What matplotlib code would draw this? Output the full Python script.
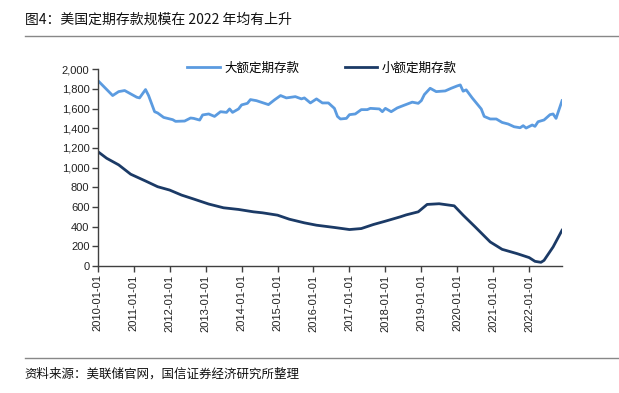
import matplotlib
matplotlib.use("Agg")
import matplotlib.pyplot as plt
from matplotlib.lines import Line2D
from matplotlib.ticker import FuncFormatter
import pandas as pd

plt.rcParams['font.family'] = ['Noto Sans CJK SC', 'DejaVu Sans']

title = "图4：美国定期存款规模在 2022 年均有上升"
source = "资料来源：美联储官网，国信证券经济研究所整理"
series_large_name = "大额定期存款"
series_small_name = "小额定期存款"

large_dates = [
    "2010-01", "2010-06", "2010-08", "2010-10", "2010-12", "2011-02", "2011-03", "2011-05",
    "2011-06", "2011-08", "2011-09", "2011-11", "2012-02", "2012-03", "2012-06", "2012-08",
    "2012-09", "2012-11", "2012-12", "2013-02", "2013-04", "2013-06", "2013-08", "2013-09",
    "2013-10", "2013-12", "2014-01", "2014-03", "2014-04", "2014-06", "2014-10", "2014-12",
    "2015-02", "2015-04", "2015-07", "2015-09", "2015-10", "2015-12", "2016-02", "2016-04",
    "2016-06", "2016-08", "2016-09", "2016-10", "2016-12", "2017-01", "2017-03", "2017-05",
    "2017-07", "2017-08", "2017-11", "2017-12", "2018-01", "2018-03", "2018-05", "2018-07",
    "2018-10", "2018-12", "2019-01", "2019-02", "2019-04", "2019-06", "2019-09", "2019-11",
    "2020-01", "2020-02", "2020-03", "2020-04", "2020-06", "2020-09", "2020-10", "2020-12",
    "2021-02", "2021-04", "2021-06", "2021-08", "2021-10", "2021-11", "2021-12", "2022-02",
    "2022-03", "2022-04", "2022-06", "2022-08", "2022-09", "2022-10", "2022-12",
]
large_values = [
    1885, 1732, 1772, 1783, 1749, 1715, 1708, 1793,
    1732, 1568, 1555, 1510, 1487, 1470, 1473, 1504,
    1500, 1483, 1535, 1545, 1520, 1568, 1561, 1596,
    1561, 1596, 1637, 1653, 1691, 1680, 1640, 1688,
    1732, 1708, 1721, 1698, 1708, 1657, 1698, 1657,
    1657, 1602, 1520, 1494, 1500, 1538, 1545, 1589,
    1589, 1602, 1596, 1568, 1602, 1568, 1606, 1630,
    1665, 1653, 1680, 1742, 1806, 1772, 1779, 1806,
    1830, 1840, 1776, 1790, 1708, 1596, 1520, 1494,
    1494, 1459, 1443, 1415, 1405, 1426, 1402, 1433,
    1419, 1466, 1484, 1538, 1545, 1500, 1680,
]

small_dates = [
    "2010-01", "2010-04", "2010-08", "2010-12", "2011-05", "2011-09", "2012-01", "2012-05",
    "2012-09", "2013-02", "2013-07", "2013-12", "2014-05", "2014-08", "2015-01", "2015-05",
    "2015-10", "2016-02", "2016-08", "2017-01", "2017-05", "2017-09", "2018-01", "2018-06",
    "2018-08", "2018-12", "2019-03", "2019-07", "2019-12", "2020-03", "2020-07", "2020-12",
    "2021-04", "2021-09", "2022-01", "2022-03", "2022-05", "2022-06", "2022-09", "2022-12",
]
small_values = [
    1163, 1095, 1028, 933, 864, 806, 772, 721,
    681, 630, 592, 575, 551, 541, 517, 476,
    439, 415, 392, 371, 381, 422, 456, 500,
    520, 551, 626, 633, 612, 517, 398, 245,
    170, 126, 86, 48, 38, 58, 194, 364,
]

y_ticks = [0, 200, 400, 600, 800, 1000, 1200, 1400, 1600, 1800, 2000]
x_tick_labels = [f"{y}-01-01" for y in range(2010, 2023)]

color_large = "#5B9BE0"
color_small = "#1B3A66"

fig = plt.figure(figsize=(6.19, 3.93), dpi=100)
ax = fig.add_axes([0.158, 0.323, 0.750, 0.501])

ld = pd.to_datetime(large_dates)
sd = pd.to_datetime(small_dates)
ax.plot(ld, large_values, color=color_large, lw=2.0, label=series_large_name,
        solid_joinstyle='round')
ax.plot(sd, small_values, color=color_small, lw=2.0, label=series_small_name,
        solid_joinstyle='round')

ax.set_ylim(0, 2000)
ax.set_yticks(y_ticks)
ax.yaxis.set_major_formatter(FuncFormatter(lambda v, p: f"{int(v):,}"))
ax.set_xlim(pd.Timestamp("2010-01-01"), pd.Timestamp("2022-12-01"))
tick_pos = pd.to_datetime(x_tick_labels)
ax.set_xticks(tick_pos)
ax.set_xticklabels(x_tick_labels, rotation=90, fontsize=8, family=['Liberation Sans', 'DejaVu Sans'])
for lab in ax.get_yticklabels():
    lab.set_fontsize(8)
    lab.set_family(['Liberation Sans', 'DejaVu Sans'])

for s in ['top', 'right']:
    ax.spines[s].set_visible(False)
for s in ['left', 'bottom']:
    ax.spines[s].set_color('#404040')
    ax.spines[s].set_linewidth(1.0)
ax.tick_params(axis='both', direction='out', length=4, width=1, color='#404040', labelcolor='#222222', pad=2)

leg = ax.legend(loc='center', bbox_to_anchor=(0.483, 1.005), ncol=2, frameon=False,
                fontsize=9, handlelength=2.6, columnspacing=3.6, handletextpad=0.4)

fig.text(0.040, 0.949, title, fontsize=10, va='center', ha='left', color='#111111')
fig.add_artist(Line2D([0.040, 1.0], [1 - 36 / 393, 1 - 36 / 393], color='#888888', lw=1.0))
fig.add_artist(Line2D([0.040, 1.0], [1 - 358 / 393, 1 - 358 / 393], color='#888888', lw=1.0))
fig.text(0.040, 0.048, source, fontsize=9, va='center', ha='left', color='#111111')

fig.savefig("out.png", dpi=100)
